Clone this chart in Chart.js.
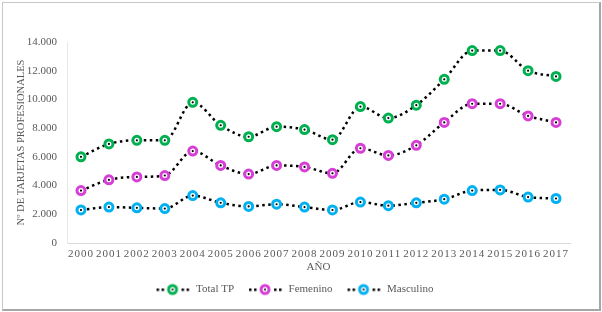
<!DOCTYPE html>
<html>
<head>
<meta charset="utf-8">
<script src="https://cdn.jsdelivr.net/npm/chart.js@4.4.1/dist/chart.umd.min.js"></script>
<style>
  html, body { margin: 0; padding: 0; background: #fff; }
  #marco {
    position: absolute; left: 2px; top: 2px; width: 596px; height: 306px;
    border-left: 1px solid #c8c8c8; border-top: 1px solid #c8c8c8;
    border-right: 2px solid #a6a6a6; border-bottom: 2px solid #a6a6a6;
  }
  #contenedor { position: absolute; left: 0; top: 0; width: 602px; height: 312px; }
</style>
</head>
<body>
<div id="marco"></div>
<div id="contenedor"><canvas id="tarjetasChart"></canvas></div>
<script>
// Datos
const anios = ['2000','2001','2002','2003','2004','2005','2006','2007','2008','2009',
               '2010','2011','2012','2013','2014','2015','2016','2017'];
const totalTP   = [6000, 6900, 7150, 7150, 9800, 8200, 7400, 8100, 7900, 7200,
                   9500, 8700, 9600, 11400, 13400, 13400, 12000, 11600];
const femenino  = [3650, 4400, 4600, 4700, 6400, 5400, 4800, 5400, 5300, 4850,
                   6600, 6100, 6800, 8400, 9700, 9700, 8850, 8400];
const masculino = [2300, 2500, 2450, 2400, 3300, 2800, 2550, 2700, 2500, 2300,
                   2850, 2600, 2800, 3050, 3650, 3700, 3200, 3100];
const yTicks = [0, 2000, 4000, 6000, 8000, 10000, 12000, 14000];

const CORES = { total: '#00B050', femenino: '#D63ED6', masculino: '#00B0F0' };
const GRIS = '#595959';
const FUENTE = "'Liberation Serif', 'Times New Roman', serif";

function formatoMiles(v) {
    return v.toString().replace(/\B(?=(\d{3})+(?!\d))/g, '.');
}

// icono de la leyenda: línea punteada con el marcador en el centro
// (espacio en blanco a la izquierda para separar los elementos)
function iconoLeyenda(color) {
    const c = document.createElement('canvas');
    c.width = 44; c.height = 14;
    const ctx = c.getContext('2d');
    ctx.fillStyle = '#000';
    [10, 15, 35, 40].forEach(x => ctx.fillRect(x, 6, 2.5, 2.5));
    ctx.beginPath();
    ctx.arc(26, 7, 4, 0, Math.PI * 2);
    ctx.fillStyle = '#fff';
    ctx.fill();
    ctx.lineWidth = 3;
    ctx.strokeStyle = color;
    ctx.stroke();
    ctx.beginPath();
    ctx.arc(26, 7, 1, 0, Math.PI * 2);
    ctx.fillStyle = '#000';
    ctx.fill();
    return c;
}

function serie(label, data, color) {
    return {
        label: label,
        data: data,
        borderColor: '#000',
        borderWidth: 2.5,
        borderDash: [2.5, 3.5],
        cubicInterpolationMode: 'monotone',
        pointRadius: 4,
        pointHoverRadius: 4,
        pointBorderWidth: 3,
        pointBorderColor: color,
        pointBackgroundColor: '#fff',
        iconoColor: color
    };
}

// punto negro en el centro de cada marcador
const puntoCentral = {
    id: 'puntoCentral',
    afterDatasetsDraw(chart) {
        const ctx = chart.ctx;
        ctx.save();
        ctx.fillStyle = '#000';
        chart.data.datasets.forEach((ds, i) => {
            chart.getDatasetMeta(i).data.forEach(p => {
                ctx.beginPath();
                ctx.arc(p.x, p.y, 1.1, 0, Math.PI * 2);
                ctx.fill();
            });
        });
        ctx.restore();
    }
};

// espaciado de letras en las etiquetas de años
const espaciadoX = {
    id: 'espaciadoX',
    afterLayout(chart) {
        const esc = chart.scales.x;
        if (esc._espaciado) return;
        esc._espaciado = true;
        const original = esc.drawLabels.bind(esc);
        esc.drawLabels = function(area) {
            const ctx = chart.ctx;
            ctx.save();
            ctx.letterSpacing = '1px';
            original(area);
            ctx.restore();
        };
    }
};

const ctx = document.getElementById('tarjetasChart');
new Chart(ctx.getContext('2d'), {
    type: 'line',
    data: {
        labels: anios,
        datasets: [
            serie('Total TP', totalTP, CORES.total),
            serie('Femenino', femenino, CORES.femenino),
            serie('Masculino', masculino, CORES.masculino)
        ]
    },
    options: {
        responsive: true,
        maintainAspectRatio: false,
        animation: false,
        layout: { padding: { left: 10, right: 32, top: 42, bottom: 7 } },
        scales: {
            x: {
                offset: true,
                afterFit: function(scale) { scale.height = 36; },
                grid: { display: false, drawTicks: false },
                border: { display: true, color: '#d9d9d9', width: 1 },
                ticks: {
                    color: GRIS,
                    font: { family: FUENTE, size: 11 },
                    maxRotation: 0,
                    autoSkip: false,
                    padding: 5
                },
                title: {
                    display: true,
                    text: 'AÑO',
                    color: GRIS,
                    font: { family: FUENTE, size: 11 },
                    padding: { top: 0, bottom: 5 }
                }
            },
            y: {
                min: 0,
                max: 14000,
                afterFit: function(scale) { scale.width = 57; },
                afterBuildTicks: function(scale) {
                    scale.ticks = yTicks.map(v => ({ value: v }));
                },
                grid: { display: false, drawTicks: false },
                border: { display: true, color: '#e8e8e8', width: 1 },
                ticks: {
                    color: GRIS,
                    font: { family: FUENTE, size: 11 },
                    padding: 10,
                    callback: function(value) {
                        return formatoMiles(value);
                    }
                },
                title: {
                    display: true,
                    text: 'Nº DE TARJETAS PROFESIONALES',
                    color: GRIS,
                    font: { family: FUENTE, size: 10.5 },
                    padding: { top: 5, bottom: 0 }
                }
            }
        },
        plugins: {
            legend: {
                position: 'bottom',
                labels: {
                    usePointStyle: true,
                    pointStyleWidth: 44,
                    boxHeight: 12,
                    padding: 5,
                    color: GRIS,
                    font: { family: FUENTE, size: 11 },
                    generateLabels: function(chart) {
                        return chart.data.datasets.map((ds, i) => ({
                            text: ds.label,
                            fontColor: GRIS,
                            pointStyle: iconoLeyenda(ds.iconoColor),
                            lineWidth: 0,
                            strokeStyle: 'transparent',
                            fillStyle: 'transparent',
                            datasetIndex: i,
                            hidden: false
                        }));
                    }
                }
            },
            tooltip: { enabled: false }
        }
    },
    plugins: [puntoCentral, espaciadoX]
});
</script>
</body>
</html>
